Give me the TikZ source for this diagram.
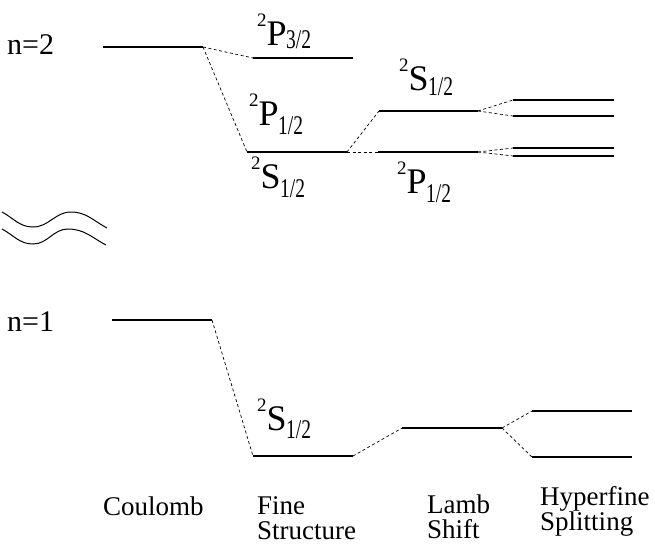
\documentclass[tikz,border=0pt]{standalone}
\usepackage{fontspec}
\setmainfont{Liberation Serif}
% \tsym{letter}{subscript}{subscript drop}
\newcommand\tsym[3]{\raisebox{19pt}{\fontsize{19}{19}\selectfont 2}{\fontsize{36}{36}\selectfont #1}\kern-0.5pt\raisebox{-#3}{\scalebox{0.72}[1]{\fontsize{27}{27}\selectfont #2}}}
\tikzset{
  level/.style={line width=2.2pt},
  link/.style={dash pattern=on 3pt off 2.5pt, line width=0.7pt},
  lab/.style={anchor=base west, inner sep=0pt, align=left, font=\fontsize{27}{25}\selectfont},
  nlab/.style={anchor=base west, inner sep=0pt, font=\fontsize{30}{30}\selectfont},
  term/.style={anchor=base west, inner sep=0pt},
  brk/.style={line width=1pt}
}
\begin{document}
\begin{tikzpicture}[x=1pt,y=-1pt]
\useasboundingbox (0,0) rectangle (655,546);
% ---- n = 2 levels
\coordinate (c2a) at (103,47);  \coordinate (c2b) at (203,47);
\coordinate (f2pa) at (253,58); \coordinate (f2pb) at (353,58);
\coordinate (f2sa) at (247,152);\coordinate (f2sb) at (347,152);
\coordinate (l2sa) at (379,111);\coordinate (l2sb) at (478,111);
\coordinate (l2pa) at (378,152);\coordinate (l2pb) at (478,152);
\coordinate (h1a) at (513,100); \coordinate (h1b) at (614,100);
\coordinate (h2a) at (513,116); \coordinate (h2b) at (614,116);
\coordinate (h3a) at (513,148); \coordinate (h3b) at (614,148);
\coordinate (h4a) at (513,156); \coordinate (h4b) at (614,156);
% ---- n = 1 levels
\coordinate (c1a) at (112,320); \coordinate (c1b) at (212,320);
\coordinate (f1a) at (253,456); \coordinate (f1b) at (353,456);
\coordinate (l1a) at (402,428); \coordinate (l1b) at (502,428);
\coordinate (g1a) at (532,411); \coordinate (g1b) at (632,411);
\coordinate (g2a) at (532,457); \coordinate (g2b) at (632,457);

\foreach \p in {c2,f2p,f2s,l2s,l2p,h1,h2,h3,h4,c1,f1,l1,g1,g2}
  \draw[level] (\p a) -- (\p b);

% connectors
\draw[link] (c2b) -- (f2pa);
\draw[link] (c2b) -- (f2sa);
\draw[link] (f2sb) -- (l2sa);
\draw[link] (f2sb) -- (l2pa);
\draw[link] (l2sb) -- (h1a);
\draw[link] (l2sb) -- (h2a);
\draw[link] (l2pb) -- (h3a);
\draw[link] (l2pb) -- (h4a);
\draw[link] (c1b) -- (f1a);
\draw[link] (f1b) -- (l1a);
\draw[link] (l1b) -- (g1a);
\draw[link] (l1b) -- (g2a);

% break mark
\draw[brk] (2,212) to[out=-28,in=180] (33,227) to[out=0,in=180] (71,212) to[out=0,in=152] (107,228);
\draw[brk] (2,229) to[out=-28,in=180] (33,244) to[out=0,in=180] (68,229) to[out=0,in=152] (106,245);

% n labels
\node[nlab] (n2) at (7,54) {n=2};
\node[nlab] (n1) at (7,331) {n=1};

% term symbols
\node[term] (tP32) at (257,45) {\tsym{P}{3/2}{3pt}};
\node[term] (tP12) at (249,125) {\tsym{P}{1/2}{9pt}};
\node[term] (tS12) at (251,188) {\tsym{S}{1/2}{9pt}};
\node[term] (tS12l) at (399,90) {\tsym{S}{1/2}{5pt}};
\node[term] (tP12l) at (397,193) {\tsym{P}{1/2}{9pt}};
\node[term] (tS12g) at (257,430) {\tsym{S}{1/2}{8pt}};

% column labels
\node[lab] (coul) at (103,515) {Coulomb};
\node[lab] (fine) at (257,539) {Fine\\Structure};
\node[lab] (lamb) at (427,538) {Lamb\\Shift};
\node[lab] (hyp) at (540,530) {Hyperfine\\Splitting};
\end{tikzpicture}
\end{document}
